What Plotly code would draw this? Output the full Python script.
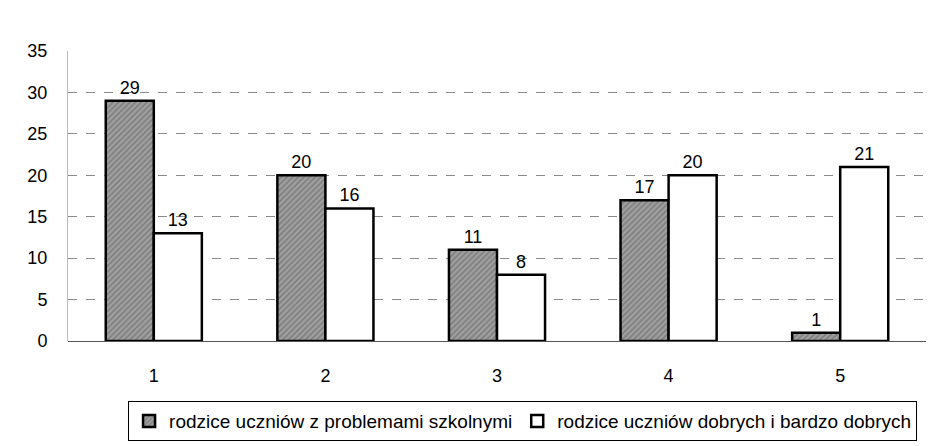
import plotly.graph_objects as go

categories = ["1", "2", "3", "4", "5"]
series_problem = [29, 20, 11, 17, 1]
series_good = [13, 16, 8, 20, 21]
name_problem = "rodzice uczniów z problemami szkolnymi"
name_good = "rodzice uczniów dobrych i bardzo dobrych"
y_ticks = [0, 5, 10, 15, 20, 25, 30, 35]

fig = go.Figure()
fig.add_trace(go.Bar(
    x=categories, y=series_problem, name=name_problem,
    text=series_problem, textposition="outside",
    marker=dict(color="#8c8c8c", line=dict(color="black", width=2.5),
                pattern=dict(shape="/", fgcolor="#5a5a5a", bgcolor="#a0a0a0", size=4, solidity=0.4)),
    textfont=dict(size=18, color="black"), cliponaxis=False,
))
fig.add_trace(go.Bar(
    x=categories, y=series_good, name=name_good,
    text=series_good, textposition="outside",
    marker=dict(color="white", line=dict(color="black", width=2.5)),
    textfont=dict(size=18, color="black"), cliponaxis=False,
))

fig.update_layout(
    width=932, height=446,
    margin=dict(l=68, r=6, t=51, b=105, autoexpand=False),
    barmode="group", bargap=0.44, bargroupgap=0,
    plot_bgcolor="white", paper_bgcolor="white",
    font=dict(family="Liberation Sans, Arial, sans-serif", size=18, color="black"),
    showlegend=True,
    legend=dict(orientation="h", x=0.07, xanchor="left", y=-0.345, yanchor="bottom",
                bordercolor="black", borderwidth=1, font=dict(size=19),
                itemwidth=30, tracegroupgap=0),
    xaxis=dict(showgrid=False, ticks="", tickfont=dict(size=18), zeroline=False,
               showline=False, automargin=False, ticklabelstandoff=22),
    yaxis=dict(range=[0, 35], tickvals=y_ticks, showgrid=True, gridcolor="#8a8a8a",
               griddash="dash", gridwidth=1, zeroline=True, zerolinecolor="#555",
               zerolinewidth=1, tickfont=dict(size=18), ticks="", ticklabelstandoff=16,
               showline=True, linecolor="#bbbbbb", linewidth=1, automargin=False),
)

fig.write_html("out.html", config={"displayModeBar": False},
               post_script="document.body.style.margin='0';document.body.style.overflow='hidden';")
